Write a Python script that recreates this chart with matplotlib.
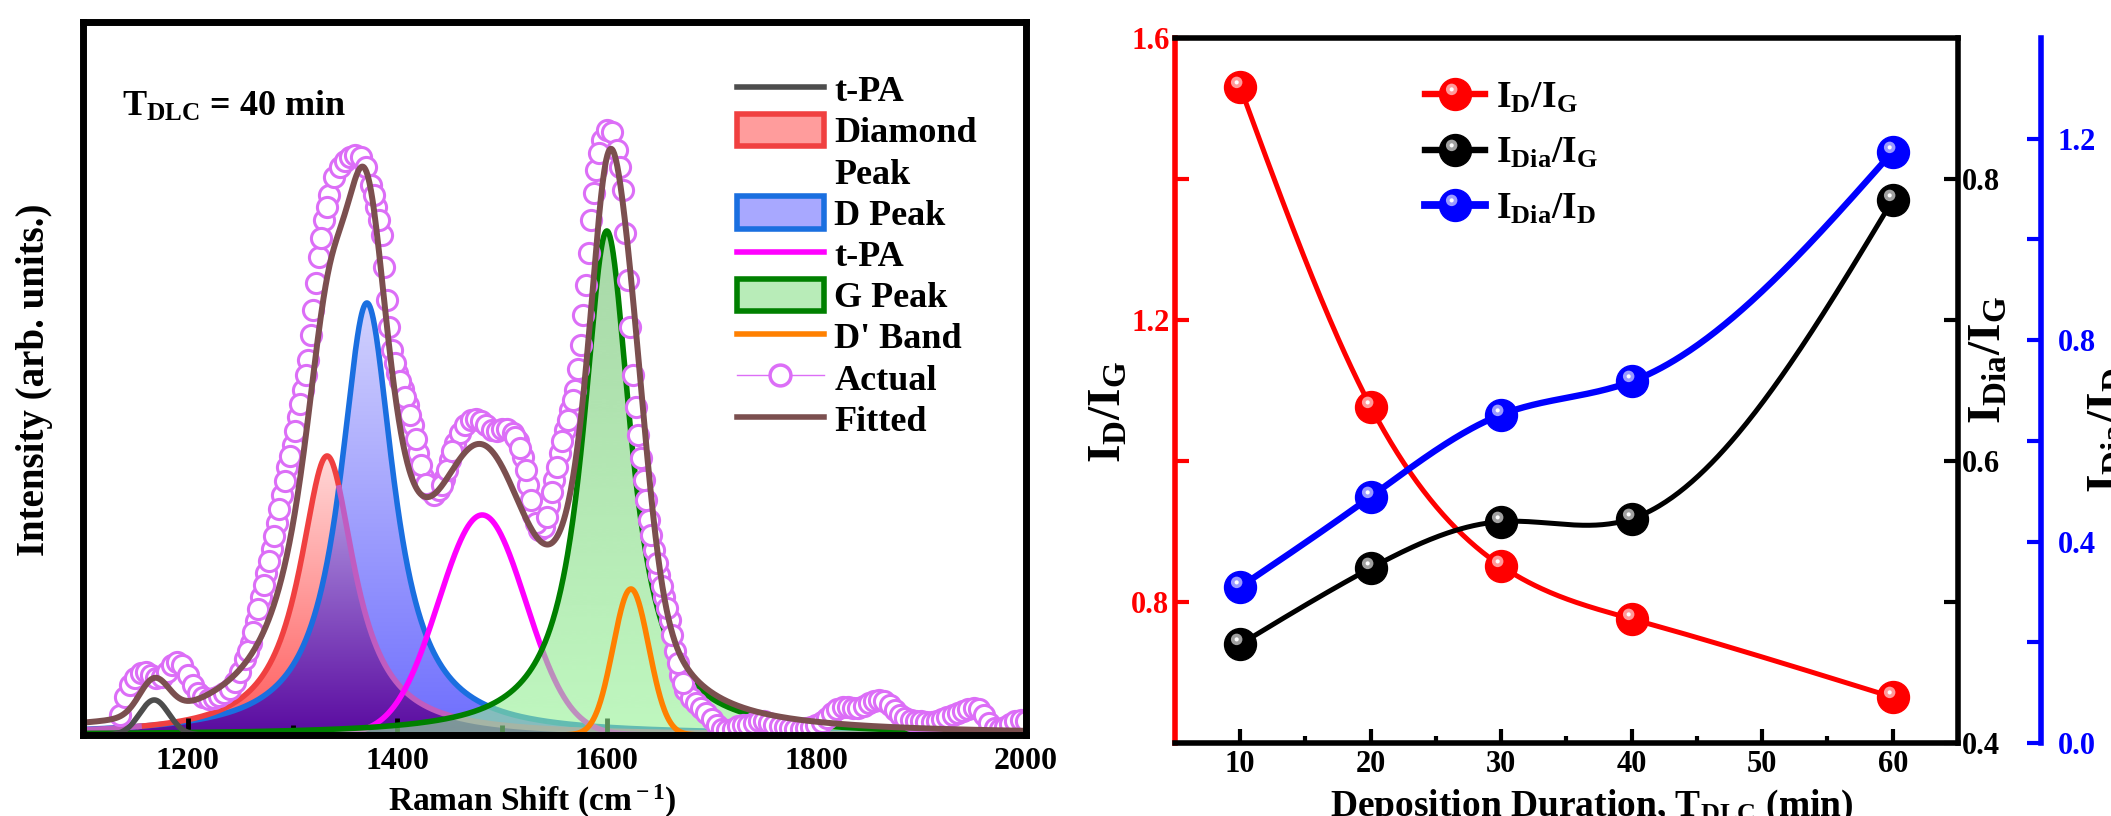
import numpy as np
import matplotlib
matplotlib.use('Agg')
import matplotlib.pyplot as plt
from matplotlib.path import Path
from matplotlib.patches import PathPatch, Patch
from matplotlib.lines import Line2D
from matplotlib.colors import to_rgba
from matplotlib.legend_handler import HandlerTuple

plt.rcParams['font.family'] = 'Liberation Serif'
plt.rcParams['font.weight'] = 'bold'
plt.rcParams['axes.labelweight'] = 'bold'
plt.rcParams['mathtext.fontset'] = 'custom'
plt.rcParams['mathtext.rm'] = 'Liberation Serif:bold'
plt.rcParams['mathtext.bf'] = 'Liberation Serif:bold'
plt.rcParams['mathtext.it'] = 'Liberation Serif:bold'

# ---------------- Raman spectrum, T_DLC = 40 min (arb. units) ----------------
shift = np.arange(1135, 2001, 5)
actual = [20, 38, 50, 57, 62, 63, 60, 57, 58, 63,            # 1135-1180
          70, 73, 70, 60, 50, 42, 38, 36, 37, 39,            # 1185-1230
          42, 46, 53, 63, 76, 92, 114, 138, 162, 186,        # 1235-1280
          212, 240, 268, 290, 318, 345, 375, 425, 478, 515,  # 1285-1330
          540, 558, 568, 574, 578, 580, 578, 568, 550, 528,  # 1335-1380
          500, 435, 385, 362, 346, 330, 310, 282, 258, 245,  # 1385-1430
          240, 245, 256, 275, 292, 302, 310, 315, 316, 314,  # 1435-1480
          310, 305, 304, 306, 306, 302, 294, 278, 250, 220,  # 1485-1530
          205, 208, 230, 255, 282, 305, 325, 345, 390, 450,  # 1535-1580
          515, 565, 595, 605, 603, 585, 545, 455, 360, 300,  # 1585-1630
          255, 215, 185, 160, 138, 115, 84, 60, 45, 37,      # 1635-1680
          32, 27, 22, 16, 10, 6, 5, 6, 9, 10,                # 1685-1730
          10, 12, 14, 14, 12, 10, 9, 8, 7, 6,                # 1735-1780
          6, 7, 8, 10, 13, 17, 22, 26, 28, 28,               # 1785-1830
          27, 27, 29, 32, 34, 35, 34, 30, 25, 20,            # 1835-1880
          17, 15, 14, 14, 13, 13, 14, 16, 18, 20,            # 1885-1930
          22, 24, 26, 27, 26, 20, 12, 7, 6, 8,               # 1935-1980
          11, 14, 15, 14]                                    # 1985-2000

# extra points read on the steep flanks (half-step positions)
shift_flank = [1257.5, 1262.5, 1267.5, 1272.5, 1277.5, 1282.5, 1287.5, 1292.5,
               1297.5, 1302.5, 1307.5, 1312.5, 1317.5, 1322.5, 1327.5, 1332.5,
               1377.5, 1382.5, 1387.5, 1392.5, 1397.5, 1402.5, 1407.5, 1412.5,
               1417.5, 1422.5, 1427.5, 1442.5, 1447.5, 1452.5,
               1512.5, 1517.5, 1522.5, 1527.5, 1532.5, 1542.5, 1547.5, 1552.5,
               1557.5, 1562.5, 1567.5, 1572.5, 1577.5, 1582.5, 1587.5, 1592.5,
               1612.5, 1617.5, 1622.5, 1627.5, 1632.5, 1637.5, 1642.5, 1647.5,
               1652.5, 1657.5, 1662.5, 1667.5, 1672.5]
actual_flank = [84, 103, 126, 150, 174, 199, 226, 254,
                279, 304, 331, 360, 400, 452, 497, 528,
                540, 515, 468, 408, 372, 354, 338, 320,
                296, 270, 251, 250, 265, 284,
                298, 287, 265, 235, 212, 218, 243, 268,
                294, 315, 335, 366, 420, 482, 542, 582,
                568, 502, 408, 328, 277, 235, 200, 172,
                149, 127, 100, 72, 52]

# fitted peak components
peak_centre = [1168, 1333, 1371, 1481, 1600, 1623]
peak_fwhm = [33, 64, 62, 98, 56, 40]
peak_height = [35, 279, 432, 220, 504, 146]
peak_shape = ['G', 'L', 'L', 'G', 'L', 'G']

# ---------------- intensity ratios vs deposition time ----------------
t_dep = [10, 20, 30, 40, 60]
id_ig = [1.53, 1.077, 0.851, 0.776, 0.665]
idia_ig = [0.470, 0.524, 0.557, 0.559, 0.785]
idia_id = [0.31, 0.489, 0.652, 0.718, 1.174]


def band(x, c, w, h, kind):
    if kind == 'L':
        return h / (1 + ((x - c) / (w / 2)) ** 2)
    s = w / 2.3548
    return h * np.exp(-(x - c) ** 2 / (2 * s ** 2))


def grad_fill(ax, x, y, c_top, c_bot, alpha=1.0, z=1):
    verts = np.column_stack([np.r_[x[0], x, x[-1]], np.r_[0, y, 0]])
    patch = PathPatch(Path(verts), facecolor='none', edgecolor='none')
    ax.add_patch(patch)
    t = np.linspace(0, 1, 256)[:, None]
    c0 = np.array(to_rgba(c_bot))
    c1 = np.array(to_rgba(c_top))
    img = (c0 + (c1 - c0) * t)[:, None, :]
    img[..., 3] = alpha
    im = ax.imshow(img, extent=[x[0], x[-1], 0, y.max()], origin='lower',
                   aspect='auto', zorder=z, interpolation='bilinear')
    im.set_clip_path(patch)


def smooth(x, y, n=300):
    # natural cubic spline for the connecting line
    x = np.asarray(x, float)
    y = np.asarray(y, float)
    h = np.diff(x)
    m = len(x)
    A = np.zeros((m, m))
    r = np.zeros(m)
    A[0, 0] = A[-1, -1] = 1
    for i in range(1, m - 1):
        A[i, i - 1] = h[i - 1]
        A[i, i] = 2 * (h[i - 1] + h[i])
        A[i, i + 1] = h[i]
        r[i] = 6 * ((y[i + 1] - y[i]) / h[i] - (y[i] - y[i - 1]) / h[i - 1])
    M = np.linalg.solve(A, r)
    xs = np.linspace(x[0], x[-1], n)
    idx = np.clip(np.searchsorted(x, xs) - 1, 0, m - 2)
    x0, x1 = x[idx], x[idx + 1]
    hh = x1 - x0
    a = (x1 - xs) / hh
    b = (xs - x0) / hh
    ys = a * y[idx] + b * y[idx + 1] + ((a ** 3 - a) * M[idx] + (b ** 3 - b) * M[idx + 1]) * hh ** 2 / 6
    return xs, ys


def hl(r, dx=-0.24, dy=0.32):
    # off-centre highlight disc for the "sphere" markers
    circ = Path.circle((dx, dy), r)
    verts = np.vstack([circ.vertices, [[-1, -1], [1, 1]]])
    codes = np.r_[circ.codes, [Path.MOVETO, Path.MOVETO]]
    return Path(verts, codes)


fig = plt.figure(figsize=(21.11, 8.16), dpi=100)

# ======================= left panel =======================
axL = fig.add_axes([0.0393, 0.0993, 0.4467, 0.8738])
xf = np.linspace(1100, 2000, 1801)
comp = [band(xf, c, w, h, k) for c, w, h, k in zip(peak_centre, peak_fwhm, peak_height, peak_shape)]
tpa1, dia, dpk, tpa2, gpk, dprime = comp
fitted = np.sum(comp, axis=0)

grad_fill(axL, xf, dpk, '#d2d2fd', '#6e6efe', z=1)
grad_fill(axL, xf, dia, '#ffd8d8', '#ff5a5a', z=1.1)
grad_fill(axL, xf, np.minimum(dia, dpk), '#b39ae3', '#5a0aa0', z=1.2)

axL.plot(xf, dpk, color='#1a6fe0', lw=4, zorder=1.3)
axL.plot(xf, np.where(dia >= dpk, dia, np.nan), color='#f04040', lw=4, zorder=1.4)
axL.plot(xf, np.where(dia < dpk, dia, np.nan), color='#c05cc0', lw=4, zorder=1.4)
axL.plot(xf, tpa2, color='#ff00ff', lw=4, zorder=1.5)
grad_fill(axL, xf, gpk, '#6ebf6e', '#95f295', alpha=0.6, z=1.6)
axL.plot(xf, gpk, color='#008000', lw=4, zorder=1.7)
axL.plot(xf, dprime, color='#ff8000', lw=4, zorder=1.8)
axL.plot(xf, tpa1, color='#4d4d4d', lw=4, zorder=1.8)
axL.plot(np.r_[shift, shift_flank], np.r_[actual, actual_flank], ls='none', marker='o',
         ms=14.5, mfc='white', mec='#dc6ef7', mew=2.2, zorder=2.0)
axL.plot(xf, fitted, color='#7b4f4f', lw=4.3, zorder=2.1)

axL.set_xlim(1100, 2000)
axL.set_ylim(0, 713)
axL.set_yticks([])
axL.set_xticks([1200, 1400, 1600, 1800, 2000])
axL.set_xticks([1300, 1500, 1700, 1900], minor=True)
axL.tick_params(axis='x', which='major', direction='in', length=12, width=3.5,
                labelsize=23, pad=9)
axL.tick_params(axis='x', which='minor', direction='in', length=7, width=3.5)
for s in axL.spines.values():
    s.set_linewidth(5)
    s.set_zorder(5)

axL.set_xlabel(r'Raman Shift (cm$^{\rm -1}$)', fontsize=24)
axL.xaxis.label.set_va('baseline')
axL.xaxis.set_label_coords(0.476, -0.107)
axL.set_ylabel('Intensity (arb. units.)', fontsize=28)
axL.yaxis.label.set_va('center')
axL.yaxis.set_label_coords(-0.051, 0.498)
axL.text(0.041, 0.868, r'T$_{\rm DLC}$ = 40 min', transform=axL.transAxes,
         fontsize=26, va='baseline', ha='left')

hL = [Line2D([], [], color='#4d4d4d', lw=4),
      Patch(facecolor='#ff9c9c', edgecolor='#f04040', lw=4, joinstyle='round'),
      Line2D([], [], color='none'),
      Patch(facecolor='#a8a8ff', edgecolor='#1a6fe0', lw=4, joinstyle='round'),
      Line2D([], [], color='#ff00ff', lw=4),
      Patch(facecolor='#b8ecb8', edgecolor='#008000', lw=4, joinstyle='round'),
      Line2D([], [], color='#ff8000', lw=4),
      Line2D([], [], color='#dc6ef7', lw=1, marker='o', ms=15, mfc='white',
             mec='#dc6ef7', mew=2.5),
      Line2D([], [], color='#7b4f4f', lw=4)]
lL = ['t-PA', 'Diamond', 'Peak', 'D Peak', 't-PA', 'G Peak', "D' Band", 'Actual', 'Fitted']
axL.legend(hL, lL, loc='upper left', bbox_to_anchor=(0.6935, 0.929), frameon=False,
           fontsize=26, handlelength=2.4, handleheight=1.0, handletextpad=0.3,
           labelspacing=0.13, borderpad=0, borderaxespad=0)

# ======================= right panel =======================
axR = fig.add_axes([0.5566, 0.0895, 0.3709, 0.864])
ax2 = axR.twinx()
ax3 = axR.twinx()
ax3.spines['right'].set_position(('axes', 1.106))

series = [(axR, id_ig, 'red', '#ff9a9a', 3.6),
          (ax2, idia_ig, 'black', '#a0a0a0', 3.6),
          (ax3, idia_id, 'blue', '#9a9aff', 4.6)]
for ax, vals, col, light, lw in series:
    xs, ys = smooth(t_dep, vals)
    ax.plot(xs, ys, color=col, lw=lw, zorder=3)
    ax.plot(t_dep, vals, ls='none', marker='o', ms=23, mfc=col, mec=col, zorder=4)
    ax.plot(t_dep, vals, ls='none', marker=hl(0.36), ms=23, mfc=light, mec='none', zorder=5)
    ax.plot(t_dep, vals, ls='none', marker=hl(0.13), ms=23, mfc='white', mec='none', zorder=6)

axR.set_xlim(5, 65)
axR.set_ylim(0.6, 1.6)
ax2.set_ylim(0.4, 0.9)
ax3.set_ylim(0.0, 1.4)

axR.set_xticks([10, 20, 30, 40, 50, 60])
axR.set_xticks([15, 25, 35, 45, 55], minor=True)
axR.set_yticks([0.8, 1.2, 1.6])
axR.set_yticks([1.0, 1.4], minor=True)
ax2.set_yticks([0.4, 0.6, 0.8])
ax2.set_yticks([0.5, 0.7], minor=True)
ax3.set_yticks([0.0, 0.4, 0.8, 1.2])
ax3.set_yticks([0.2, 0.6, 1.0], minor=True)
axR.yaxis.set_major_formatter('{x:.1f}')
ax2.yaxis.set_major_formatter('{x:.1f}')
ax3.yaxis.set_major_formatter('{x:.1f}')

axR.tick_params(axis='x', which='major', direction='in', length=10, width=3,
                labelsize=22, pad=5)
axR.tick_params(axis='x', which='minor', direction='in', length=5, width=3)
axR.tick_params(axis='y', which='both', direction='in', length=10, width=3,
                color='red', labelcolor='red', labelsize=22, pad=4)
ax2.tick_params(axis='y', which='both', direction='in', length=10, width=3,
                color='black', labelcolor='black', labelsize=22, pad=3)
ax3.tick_params(axis='y', which='both', direction='in', length=10, width=3,
                color='blue', labelcolor='blue', labelsize=22, pad=12)

for s in axR.spines.values():
    s.set_linewidth(4)
axR.spines['left'].set_color('red')
axR.spines['right'].set_visible(False)
for k in ['left', 'top', 'bottom']:
    ax2.spines[k].set_visible(False)
    ax3.spines[k].set_visible(False)
ax2.spines['right'].set_linewidth(4)
ax3.spines['right'].set_linewidth(4)
ax3.spines['right'].set_color('blue')

axR.set_xlabel(r'Deposition Duration, T$_{\rm DLC}$ (min)', fontsize=27)
axR.xaxis.label.set_va('baseline')
axR.xaxis.set_label_coords(0.533, -0.104)
axR.set_ylabel(r'I$_{\rm D}$/I$_{\rm G}$', fontsize=34)
axR.yaxis.label.set_va('center')
axR.yaxis.set_label_coords(-0.083, 0.47)
ax2.set_ylabel(r'I$_{\rm Dia}$/I$_{\rm G}$', fontsize=34)
ax2.yaxis.label.set_va('center')
ax2.yaxis.set_label_coords(1.041, 0.543)
ax3.set_ylabel(r'I$_{\rm Dia}$/I$_{\rm D}$', fontsize=34)
ax3.yaxis.label.set_va('center')
ax3.yaxis.set_label_coords(1.192, 0.444)

for ax in (axL, axR, ax2, ax3):
    for lab in ax.get_xticklabels() + ax.get_yticklabels():
        lab.set_fontweight('bold')

hR = []
for ax, vals, col, light, lw in series:
    hR.append((Line2D([], [], color=col, lw=lw + 1, marker='o', ms=23, mfc=col, mec=col),
               Line2D([], [], ls='none', marker=hl(0.36), ms=23, mfc=light, mec='none'),
               Line2D([], [], ls='none', marker=hl(0.13), ms=23, mfc='white', mec='none')))
ax3.legend(hR, [r'I$_{\rm D}$/I$_{\rm G}$', r'I$_{\rm Dia}$/I$_{\rm G}$', r'I$_{\rm Dia}$/I$_{\rm D}$'],
           handler_map={tuple: HandlerTuple(ndivide=1)}, loc='upper left',
           bbox_to_anchor=(0.319, 0.94), frameon=False, fontsize=27, numpoints=1,
           handlelength=1.6, handletextpad=0.3, labelspacing=0.55,
           borderpad=0, borderaxespad=0)

fig.savefig('out.png', dpi=100)
